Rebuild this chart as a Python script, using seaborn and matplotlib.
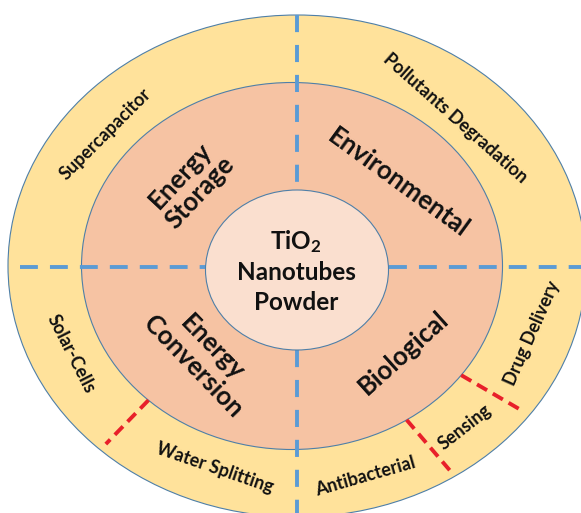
import numpy as np
import matplotlib
matplotlib.use("Agg")
import matplotlib.pyplot as plt
from matplotlib.patches import Ellipse
import seaborn as sns

sns.set_theme(style="white")
plt.rcParams['font.family'] = ['Lato', 'DejaVu Sans']
plt.rcParams['mathtext.fontset'] = 'custom'
plt.rcParams['mathtext.rm'] = 'Lato:bold'
plt.rcParams['mathtext.it'] = 'Lato:bold'
plt.rcParams['mathtext.bf'] = 'Lato:bold'

# ---- data ----
center_label = ["TiO$_2$", "Nanotubes", "Powder"]
categories = ["Energy\nStorage", "Environmental", "Energy\nConversion", "Biological"]
applications = ["Supercapacitor", "Pollutants Degradation", "Solar-Cells",
                "Water Splitting", "Antibacterial", "Sensing", "Drug Delivery"]
divider_angles = [227, -57, -36.5]   # parametric angles (deg) of sub-dividers

# ---- layout ----
cat_pos = [(190, 184), (398, 183), (203, 357), (403, 353)]
cat_rot = [47, -36, -46, 42]
app_pos = [(105, 134), (455, 118), (71, 354), (215, 468), (365, 476), (465, 427), (532, 333)]
app_rot = [45, -41.5, -63, -19, 16, 38, 66]

outer = dict(c=(297, 266), a=289, b=251)
middle = dict(c=(292, 266), a=210.5, b=183.5)
inner = dict(c=(297, 270), a=91.5, b=80)

YELLOW = "#FFE29B"
SALMON = "#F6C3A3"
PEACH = "#FADFCF"
EDGE = "#4E7FA8"
BLUE = "#5B9BD5"
RED = "#E8202A"

fig = plt.figure(figsize=(5.81, 5.13), dpi=100)
ax = fig.add_axes([0, 0, 1, 1])
ax.set_xlim(0, 581)
ax.set_ylim(513, 0)
ax.set_aspect('equal')
ax.axis('off')

for e, col, z in [(outer, YELLOW, 1), (middle, SALMON, 2)]:
    ax.add_patch(Ellipse(e['c'], 2 * e['a'], 2 * e['b'], facecolor=col,
                         edgecolor=EDGE, lw=0.8, zorder=z))

# blue dashed quadrant lines
cx, cy = inner['c']
ax.plot([20, cx - inner['a']], [267, 267], color=BLUE, lw=2.8, dashes=(4.6, 3.1),
        dash_capstyle='butt', zorder=3)
ax.plot([cx + inner['a'], 581], [267, 267], color=BLUE, lw=2.8, dashes=(4.6, 3.1),
        dash_capstyle='butt', zorder=3)
ax.plot([297, 297], [15, cy - inner['b']], color=BLUE, lw=2.8, dashes=(4.4, 3.3),
        dash_capstyle='butt', zorder=3)
ax.plot([297, 297], [cy + inner['b'], 513], color=BLUE, lw=2.8, dashes=(4.4, 3.3),
        dash_capstyle='butt', zorder=3)

# inner circle
ax.add_patch(Ellipse(inner['c'], 2 * inner['a'], 2 * inner['b'], facecolor=PEACH,
                     edgecolor=EDGE, lw=0.8, zorder=4))

# red dashed sub-dividers
for t in divider_angles:
    tr = np.deg2rad(t)
    x0 = middle['c'][0] + middle['a'] * np.cos(tr)
    y0 = middle['c'][1] - middle['b'] * np.sin(tr)
    x1 = outer['c'][0] + 0.97 * outer['a'] * np.cos(tr)
    y1 = outer['c'][1] - 0.97 * outer['b'] * np.sin(tr)
    ax.plot([x0, x1], [y0, y1], color=RED, lw=2.8, dashes=(3.0, 1.7),
            dash_capstyle='butt', zorder=5)

TXT = "#111111"
# center label
for lab, y in zip(center_label, [242, 273, 303]):
    ax.text(296, y, lab, ha='center', va='center', fontsize=17.5,
            fontweight='bold', color=TXT, zorder=6)

for lab, (x, y), r in zip(categories, cat_pos, cat_rot):
    ax.text(x, y, lab, ha='center', va='center', fontsize=18.5, fontweight='bold',
            rotation=r, rotation_mode='anchor', multialignment='center',
            linespacing=1.1, color=TXT, zorder=6)

for lab, (x, y), r in zip(applications, app_pos, app_rot):
    ax.text(x, y, lab, ha='center', va='center', fontsize=13, fontweight='bold',
            rotation=r, rotation_mode='anchor', color=TXT, zorder=6)

fig.savefig("out.png", dpi=100, facecolor='white')
